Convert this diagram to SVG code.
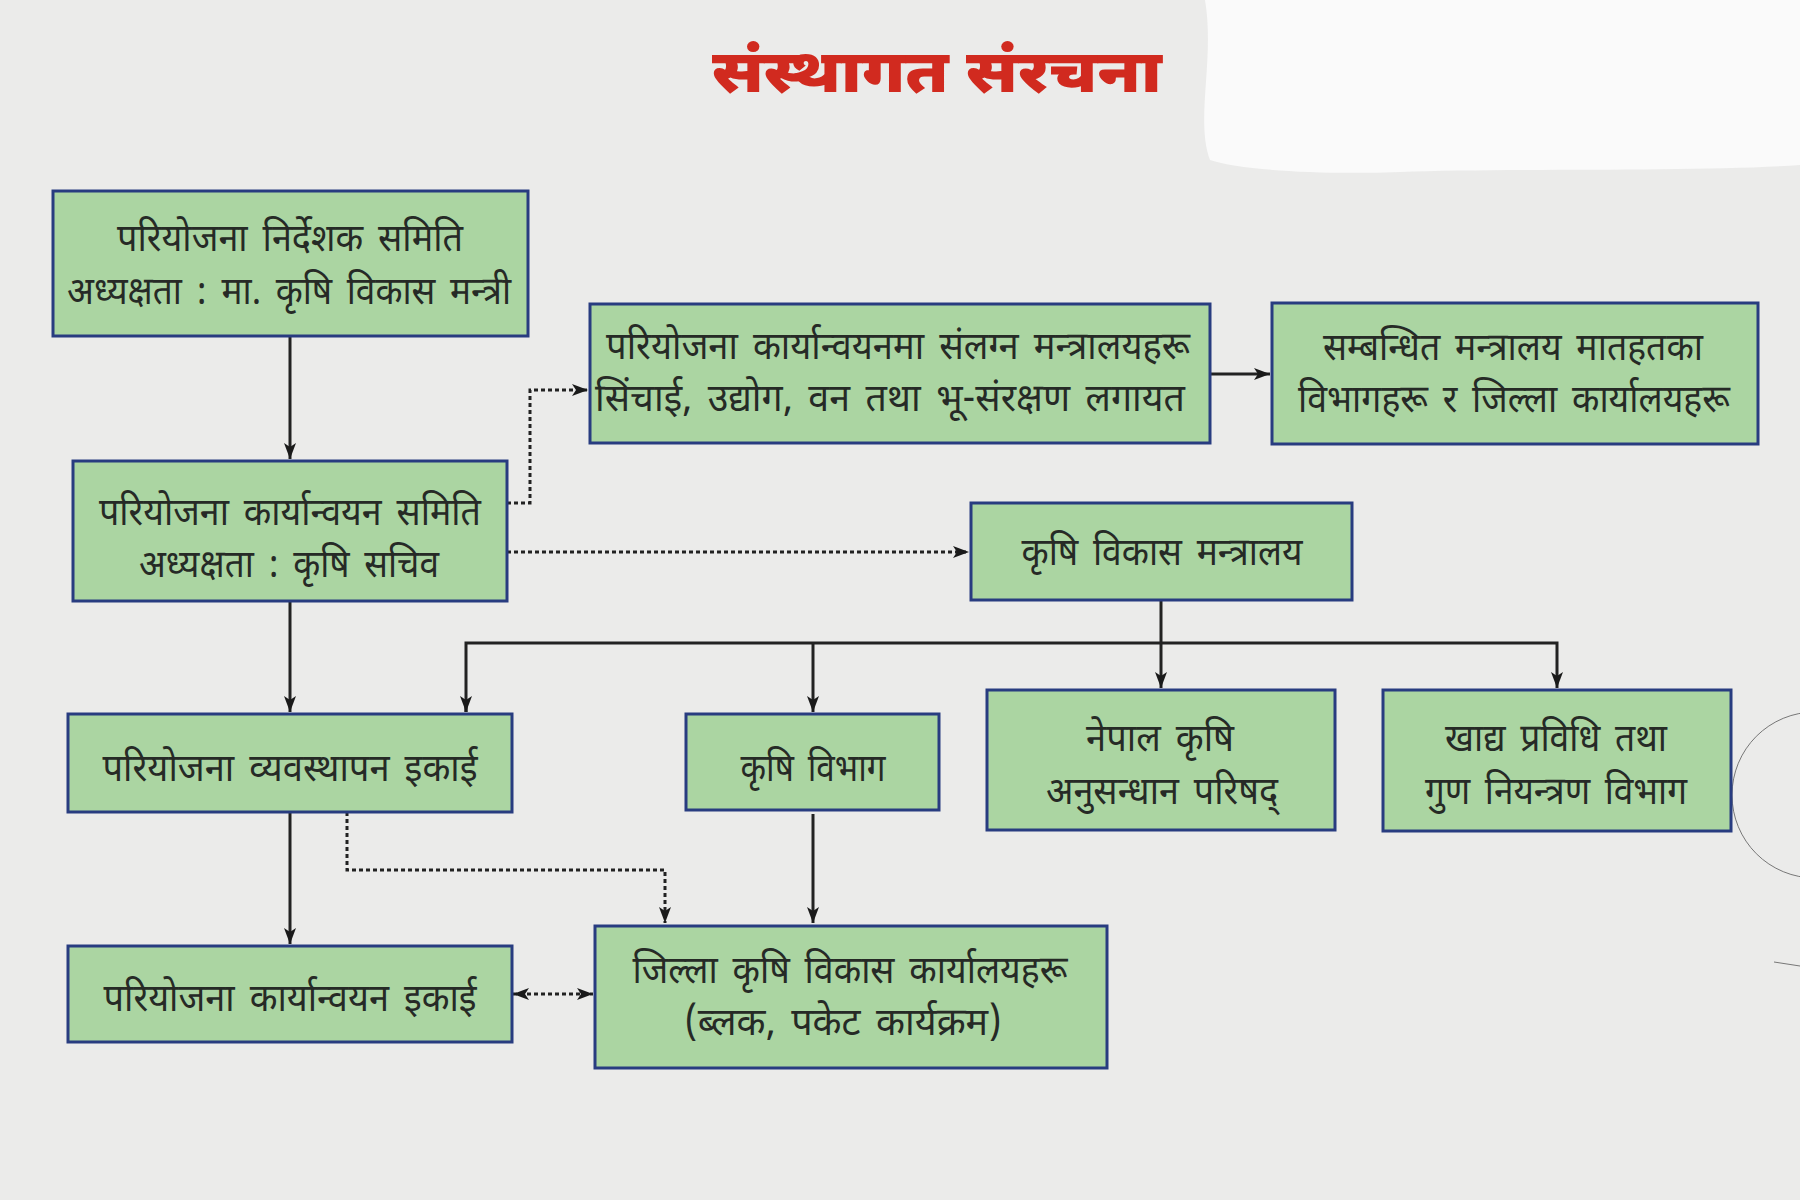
<svg xmlns="http://www.w3.org/2000/svg" width="1800" height="1200" viewBox="0 0 1800 1200">
<defs>
<style>
.bg{fill:#ebebea}
.box{fill:#abd5a2;stroke:#283c80;stroke-width:3}
.t{font-family:"Noto Sans Devanagari","Lohit Devanagari","Noto Sans",sans-serif;font-size:39px;word-spacing:6px;fill:#262a26;text-anchor:middle}
.title{font-family:"Noto Sans Devanagari","Lohit Devanagari","Noto Sans",sans-serif;font-size:60px;font-weight:900;fill:#d12a1f;text-anchor:middle}
.ln{fill:none;stroke:#222;stroke-width:3}
.dot{fill:none;stroke:#222;stroke-width:3;stroke-dasharray:4 3}
</style>
<marker id="ah" viewBox="0 0 16 12" refX="16" refY="6" markerWidth="16" markerHeight="12" markerUnits="userSpaceOnUse" orient="auto-start-reverse">
<path d="M0,0 L16,6 L0,12 L4,6 z" fill="#1a1a1a"/>
</marker>
</defs>
<rect class="bg" x="0" y="0" width="1800" height="1200"/>
<path d="M1205,0 H1800 V165 C1700,172 1500,168 1400,172 C1320,175 1240,170 1210,160 C1195,120 1215,60 1205,0 z" fill="#fafafa"/>
<path d="M1815,712 A83,83 0 0 0 1815,878" fill="none" stroke="#777" stroke-width="1"/>
<path d="M1774,962 L1800,966" fill="none" stroke="#777" stroke-width="1"/>

<text class="title" x="937" y="92" textLength="450" lengthAdjust="spacingAndGlyphs">संस्थागत संरचना</text>

<g id="connectors">
<path class="ln" d="M290,337 V459" marker-end="url(#ah)"/>
<path class="dot" d="M507,503 H530 V390 H588" marker-end="url(#ah)"/>
<path class="dot" d="M507,552 H969" marker-end="url(#ah)"/>
<path class="ln" d="M1211,374 H1270" marker-end="url(#ah)"/>
<path class="ln" d="M1161,600 V688" marker-end="url(#ah)"/>
<path class="ln" d="M466,712 V643 H1557 V688" marker-end="url(#ah)"/>
<path class="ln" d="M466,700 V712" marker-end="url(#ah)"/>
<path class="ln" d="M813,643 V712" marker-end="url(#ah)"/>
<path class="ln" d="M290,601 V712" marker-end="url(#ah)"/>
<path class="ln" d="M290,812 V944" marker-end="url(#ah)"/>
<path class="dot" d="M347,812 V870 H665 V923" marker-end="url(#ah)"/>
<path class="ln" d="M813,814 V923" marker-end="url(#ah)"/>
<path class="dot" d="M513,994 H593" marker-start="url(#ah)" marker-end="url(#ah)"/>
</g>

<g id="node-steering">
<rect class="box" x="53" y="191" width="475" height="145"/>
<text class="t" x="290" y="251" textLength="346" lengthAdjust="spacingAndGlyphs">परियोजना निर्देशक समिति</text>
<text class="t" x="289" y="304" textLength="444" lengthAdjust="spacingAndGlyphs">अध्यक्षता : मा. कृषि विकास मन्त्री</text>
</g>
<g id="node-implementation-committee">
<rect class="box" x="73" y="461" width="434" height="140"/>
<text class="t" x="290" y="525" textLength="382" lengthAdjust="spacingAndGlyphs">परियोजना कार्यान्वयन समिति</text>
<text class="t" x="289" y="577" textLength="300" lengthAdjust="spacingAndGlyphs">अध्यक्षता : कृषि सचिव</text>
</g>
<g id="node-ministries">
<rect class="box" x="590" y="304" width="620" height="139"/>
<text class="t" x="898" y="359" textLength="584" lengthAdjust="spacingAndGlyphs">परियोजना कार्यान्वयनमा संलग्न मन्त्रालयहरू</text>
<text class="t" x="890" y="411" textLength="590" lengthAdjust="spacingAndGlyphs">सिंचाई, उद्योग, वन तथा भू-संरक्षण लगायत</text>
</g>
<g id="node-related">
<rect class="box" x="1272" y="303" width="486" height="141"/>
<text class="t" x="1513" y="360" textLength="380" lengthAdjust="spacingAndGlyphs">सम्बन्धित मन्त्रालय मातहतका</text>
<text class="t" x="1514" y="412" textLength="432" lengthAdjust="spacingAndGlyphs">विभागहरू र जिल्ला कार्यालयहरू</text>
</g>
<g id="node-moad">
<rect class="box" x="971" y="503" width="381" height="97"/>
<text class="t" x="1162" y="565" textLength="281" lengthAdjust="spacingAndGlyphs">कृषि विकास मन्त्रालय</text>
</g>
<g id="node-pmu">
<rect class="box" x="68" y="714" width="444" height="98"/>
<text class="t" x="290" y="781" textLength="375" lengthAdjust="spacingAndGlyphs">परियोजना व्यवस्थापन इकाई</text>
</g>
<g id="node-doa">
<rect class="box" x="686" y="714" width="253" height="96"/>
<text class="t" x="813" y="781" textLength="145" lengthAdjust="spacingAndGlyphs">कृषि विभाग</text>
</g>
<g id="node-narc">
<rect class="box" x="987" y="690" width="348" height="140"/>
<text class="t" x="1160" y="751" textLength="148" lengthAdjust="spacingAndGlyphs">नेपाल कृषि</text>
<text class="t" x="1162" y="804" textLength="232" lengthAdjust="spacingAndGlyphs">अनुसन्धान परिषद्</text>
</g>
<g id="node-dftqc">
<rect class="box" x="1383" y="690" width="348" height="141"/>
<text class="t" x="1556" y="751" textLength="222" lengthAdjust="spacingAndGlyphs">खाद्य प्रविधि तथा</text>
<text class="t" x="1556" y="804" textLength="262" lengthAdjust="spacingAndGlyphs">गुण नियन्त्रण विभाग</text>
</g>
<g id="node-piu">
<rect class="box" x="68" y="946" width="444" height="96"/>
<text class="t" x="290" y="1011" textLength="373" lengthAdjust="spacingAndGlyphs">परियोजना कार्यान्वयन इकाई</text>
</g>
<g id="node-dado">
<rect class="box" x="595" y="926" width="512" height="142"/>
<text class="t" x="850" y="983" textLength="435" lengthAdjust="spacingAndGlyphs">जिल्ला कृषि विकास कार्यालयहरू</text>
<text class="t" x="843" y="1035" textLength="317" lengthAdjust="spacingAndGlyphs">(ब्लक, पकेट कार्यक्रम)</text>
</g>
</svg>
